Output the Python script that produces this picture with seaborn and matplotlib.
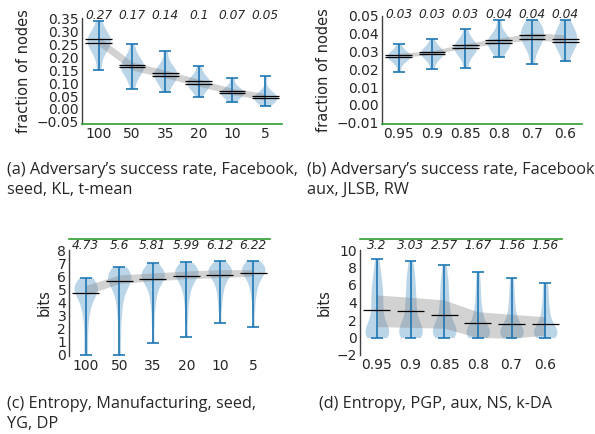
"""Violin plots: adversary success rate and entropy for four settings."""

import numpy as np
import pandas as pd
import matplotlib
matplotlib.use("Agg")
import matplotlib.pyplot as plt
import seaborn as sns

BLUE = "#1f77b4"
GREEN = "#2ca02c"

# =========================
# (a) success rate, Facebook, seed, KL
# =========================
a_labels = ["100", "50", "35", "20", "10", "5"]
a_means = [0.27, 0.17, 0.14, 0.1, 0.07, 0.05]
a_line_hi = [0.271, 0.171, 0.140, 0.107, 0.068, 0.052]
a_line_lo = [0.254, 0.162, 0.129, 0.097, 0.060, 0.044]
a_band_lo = [0.245, 0.150, 0.120, 0.088, 0.055, 0.036]
a_band_hi = [0.280, 0.182, 0.150, 0.115, 0.080, 0.060]
a_samples = [
    [0.15, 0.205, 0.23, 0.245, 0.255, 0.262, 0.268, 0.275, 0.285, 0.30, 0.34],
    [0.079, 0.12, 0.14, 0.15, 0.158, 0.165, 0.171, 0.178, 0.188, 0.205, 0.252],
    [0.065, 0.095, 0.11, 0.12, 0.128, 0.134, 0.14, 0.147, 0.157, 0.172, 0.222],
    [0.046, 0.07, 0.082, 0.09, 0.096, 0.101, 0.106, 0.112, 0.12, 0.133, 0.167],
    [0.027, 0.043, 0.05, 0.055, 0.06, 0.064, 0.068, 0.072, 0.078, 0.088, 0.118],
    [0.011, 0.028, 0.034, 0.038, 0.042, 0.045, 0.048, 0.052, 0.058, 0.07, 0.129],
]

# =========================
# (b) success rate, Facebook, aux, JLSB
# =========================
b_labels = ["0.95", "0.9", "0.85", "0.8", "0.7", "0.6"]
b_means = [0.03, 0.03, 0.03, 0.04, 0.04, 0.04]
b_line_hi = [0.0278, 0.0299, 0.0337, 0.0365, 0.0395, 0.0372]
b_line_lo = [0.0268, 0.0286, 0.0320, 0.0346, 0.0369, 0.0354]
b_band_lo = [0.0265, 0.0285, 0.0320, 0.0345, 0.0365, 0.0355]
b_band_hi = [0.0290, 0.0305, 0.0345, 0.0375, 0.0405, 0.0395]
b_samples = [
    [0.0187, 0.024, 0.0255, 0.0265, 0.027, 0.0275, 0.028, 0.0285, 0.0292, 0.0305, 0.0341],
    [0.0202, 0.025, 0.027, 0.028, 0.0288, 0.0293, 0.0298, 0.0305, 0.0315, 0.033, 0.0372],
    [0.0207, 0.027, 0.029, 0.0305, 0.0315, 0.0325, 0.0333, 0.034, 0.035, 0.037, 0.0425],
    [0.0268, 0.030, 0.032, 0.0335, 0.0345, 0.0355, 0.0363, 0.0372, 0.0385, 0.041, 0.048],
    [0.0228, 0.031, 0.034, 0.036, 0.0375, 0.039, 0.0405, 0.042, 0.0435, 0.0455, 0.048],
    [0.0245, 0.030, 0.032, 0.034, 0.0355, 0.037, 0.0385, 0.040, 0.042, 0.0445, 0.048],
]

# =========================
# (c) entropy, Manufacturing, seed, YG
# =========================
c_labels = ["100", "50", "35", "20", "10", "5"]
c_means = [4.73, 5.6, 5.81, 5.99, 6.12, 6.22]
c_band_lo = [4.57, 5.45, 5.65, 5.80, 5.90, 6.00]
c_band_hi = [5.30, 6.10, 6.25, 6.40, 6.50, 6.50]
c_samples = [
    [0.0, 1.0, 2.0, 2.8, 3.4, 3.8, 4.1, 4.4, 4.6, 4.8, 4.95, 5.05, 5.15, 5.25, 5.35, 5.5, 5.7, 5.89],
    [0.0, 1.5, 2.8, 3.6, 4.2, 4.7, 5.0, 5.3, 5.5, 5.65, 5.8, 5.9, 6.0, 6.1, 6.2, 6.35, 6.5, 6.73],
    [0.94, 2.4, 3.5, 4.2, 4.7, 5.1, 5.4, 5.6, 5.8, 5.9, 6.0, 6.1, 6.2, 6.3, 6.4, 6.55, 6.7, 6.98],
    [1.37, 2.9, 3.9, 4.5, 5.0, 5.3, 5.6, 5.8, 5.95, 6.1, 6.2, 6.3, 6.4, 6.5, 6.6, 6.7, 6.85, 7.05],
    [2.41, 3.6, 4.3, 4.8, 5.2, 5.5, 5.75, 5.95, 6.1, 6.2, 6.3, 6.4, 6.5, 6.6, 6.7, 6.8, 6.95, 7.13],
    [2.11, 3.5, 4.4, 4.9, 5.3, 5.6, 5.85, 6.05, 6.2, 6.3, 6.4, 6.5, 6.6, 6.7, 6.8, 6.9, 7.0, 7.19],
]

# =========================
# (d) entropy, PGP, aux, NS
# =========================
d_labels = ["0.95", "0.9", "0.85", "0.8", "0.7", "0.6"]
d_means = [3.2, 3.03, 2.57, 1.67, 1.56, 1.56]
d_band_lo = [1.24, 1.16, 1.05, 0.0, -0.1, 0.29]
d_band_hi = [4.86, 4.60, 4.29, 2.95, 2.65, 2.38]
d_samples = [
    [0, 0, 0.1, 0.3, 0.6, 0.9, 1.1, 1.3, 1.8, 2.4, 3.0, 3.6, 4.2, 4.8, 5.4, 6.0, 6.8, 7.6, 9.0],
    [0, 0, 0.1, 0.3, 0.6, 0.9, 1.1, 1.3, 1.7, 2.2, 2.8, 3.4, 4.0, 4.6, 5.3, 6.0, 6.8, 7.5, 8.78],
    [0, 0, 0.1, 0.3, 0.6, 0.9, 1.0, 1.2, 1.5, 1.9, 2.4, 2.9, 3.5, 4.1, 4.8, 5.5, 6.3, 7.0, 8.29],
    [0, 0, 0.05, 0.2, 0.4, 0.6, 0.8, 0.95, 1.1, 1.3, 1.6, 2.0, 2.5, 3.0, 3.6, 4.4, 5.3, 6.2, 7.49],
    [0, 0, 0.05, 0.2, 0.4, 0.6, 0.8, 0.95, 1.1, 1.3, 1.55, 1.9, 2.3, 2.8, 3.4, 4.1, 4.9, 5.8, 6.84],
    [0, 0, 0.05, 0.2, 0.4, 0.6, 0.8, 0.95, 1.1, 1.3, 1.55, 1.9, 2.3, 2.8, 3.3, 3.9, 4.6, 5.4, 6.19],
]

captions = {
    "a": "(a) Adversary\u2019s success rate, Facebook,\nseed, KL, t-mean",
    "b": "(b) Adversary\u2019s success rate, Facebook,\naux, JLSB, RW",
    "c": "(c) Entropy, Manufacturing, seed,\nYG, DP",
    "d": "(d) Entropy, PGP, aux, NS, k-DA",
}


def violin_panel(ax, labels, samples, lines, band_lo, band_hi, bw):
    df = pd.DataFrame({
        "cat": np.repeat(labels, [len(s) for s in samples]),
        "val": np.concatenate(samples),
    })
    sns.violinplot(data=df, x="cat", y="val", order=labels, ax=ax, color=BLUE,
                   saturation=1, inner=None, cut=0, density_norm="width",
                   width=0.7, linewidth=0, bw_adjust=bw)
    for coll in ax.collections:
        coll.set_alpha(0.3)

    pos = np.arange(len(labels))
    ax.fill_between(pos, band_lo, band_hi, color="0.5", alpha=0.35, lw=0, zorder=1)

    mins = [min(s) for s in samples]
    maxs = [max(s) for s in samples]
    ax.vlines(pos, mins, maxs, color=BLUE, lw=1.2, zorder=3)
    ax.hlines(mins, pos - 0.175, pos + 0.175, color=BLUE, lw=1.2, zorder=3)
    ax.hlines(maxs, pos - 0.175, pos + 0.175, color=BLUE, lw=1.2, zorder=3)
    for ln in lines:
        ax.hlines(ln, pos - 0.4, pos + 0.4, color="black", lw=0.9, zorder=4)

    ax.set_xlim(-0.5, len(labels) - 0.5)
    ax.set_xlabel("")
    ax.tick_params(length=0, labelsize=10)
    ax.tick_params(axis="x", pad=2.5)
    ax.tick_params(axis="y", pad=2)
    ax.spines["right"].set_visible(False)
    ax.spines["left"].set_color("0.25")
    ax.spines["left"].set_linewidth(1.0)


def annotate_means(ax, means, y):
    for i, m in enumerate(means):
        ax.text(i, y, f"{m:g}", transform=ax.get_xaxis_transform(),
                ha="center", va="center", fontsize=8.8, style="italic")


def main():
    sns.set_style("white")
    plt.rcParams["font.family"] = ["DejaVu Sans"]

    fig = plt.figure(figsize=(5.95, 4.34), dpi=100)
    W, H = 595, 434

    def px_axes(x0, x1, y0, y1):
        return fig.add_axes([x0 / W, 1 - y1 / H, (x1 - x0) / W, (y1 - y0) / H])

    # top row
    ax_a = px_axes(82, 282, 17.8, 124)
    violin_panel(ax_a, a_labels, a_samples, [a_line_hi, a_line_lo],
                 a_band_lo, a_band_hi, 1.0)
    ax_a.set_ylim(-0.058, 0.352)
    ax_a.set_yticks(np.round(np.arange(-0.05, 0.351, 0.05), 2))
    ax_a.yaxis.set_major_formatter("{x:.2f}")
    annotate_means(ax_a, a_means, 1.026)

    ax_b = px_axes(382, 582, 15.6, 124)
    violin_panel(ax_b, b_labels, b_samples, [b_line_hi, b_line_lo],
                 b_band_lo, b_band_hi, 1.0)
    ax_b.set_ylim(-0.0107, 0.0502)
    ax_b.set_yticks(np.round(np.arange(-0.01, 0.0501, 0.01), 2))
    ax_b.yaxis.set_major_formatter("{x:.2f}")
    annotate_means(ax_b, b_means, 1.01)

    for ax in (ax_a, ax_b):
        ax.spines["top"].set_visible(False)
        ax.spines["bottom"].set_color(GREEN)
        ax.spines["bottom"].set_linewidth(1.2)
        ax.set_ylabel("fraction of nodes", fontsize=10.5, labelpad=4)

    # bottom row
    ax_c = px_axes(69, 270, 250, 356)
    violin_panel(ax_c, c_labels, c_samples, [c_means],
                 c_band_lo, c_band_hi, 0.6)
    ax_c.set_ylim(-0.08, 8)
    ax_c.set_yticks(range(0, 9))
    annotate_means(ax_c, c_means, 1.047)

    ax_d = px_axes(360, 562, 250, 355)
    violin_panel(ax_d, d_labels, d_samples, [d_means],
                 d_band_lo, d_band_hi, 0.6)
    ax_d.set_ylim(-2, 10)
    ax_d.set_yticks(range(-2, 11, 2))
    annotate_means(ax_d, d_means, 1.047)

    for ax in (ax_c, ax_d):
        ax.spines["bottom"].set_visible(False)
        ax.spines["top"].set_color(GREEN)
        ax.spines["top"].set_linewidth(1.2)
        ax.spines["top"].set_position(("outward", 8))
        ax.set_ylabel("bits", fontsize=10.5, labelpad=4)

    # captions
    cap_kw = dict(fontsize=11.7, family=["Open Sans", "DejaVu Sans"], va="center",
                  ha="left", linespacing=1.25)
    fig.text(7 / W, 1 - 180 / H, captions["a"], **cap_kw)
    fig.text(307 / W, 1 - 180 / H, captions["b"], **cap_kw)
    fig.text(7 / W, 1 - 414 / H, captions["c"], **cap_kw)
    fig.text(319 / W, 1 - 404 / H, captions["d"], **cap_kw)

    fig.savefig("out.png", dpi=100)


if __name__ == "__main__":
    main()
